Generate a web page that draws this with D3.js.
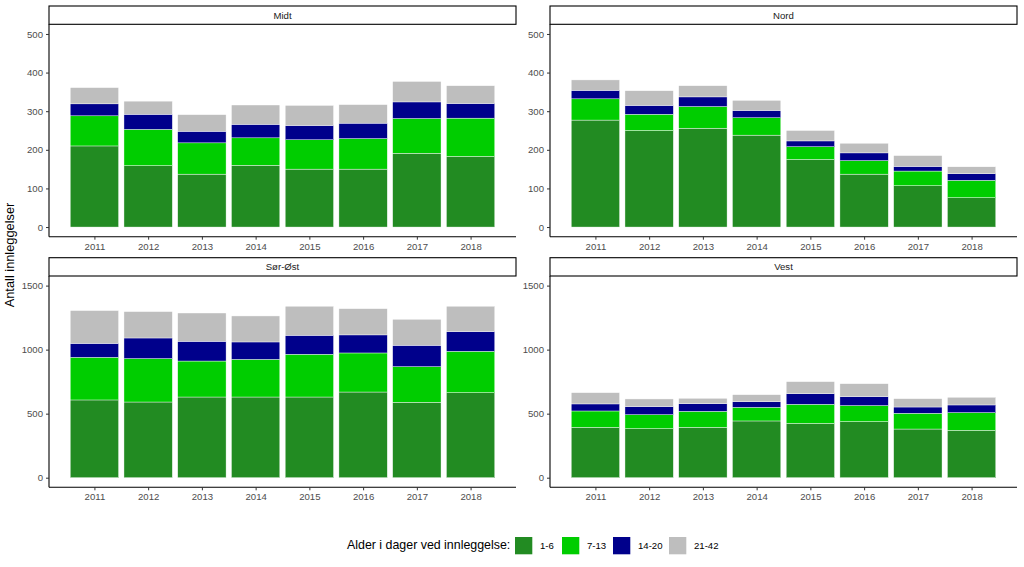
<!DOCTYPE html>
<html><head><meta charset="utf-8">
<script src="https://cdn.jsdelivr.net/npm/d3@7"></script>
<style>body{margin:0;background:#fff;font-family:"Liberation Sans",Arial,sans-serif;}</style>
</head><body><svg id="c" width="1024" height="567"></svg>
<script>
const years = [2011,2012,2013,2014,2015,2016,2017,2018];
const groups = ["1-6","7-13","14-20","21-42"];
const colors = ["#228B22","#00CD00","#00008B","#BEBEBE"];
const regions = ["Midt","Nord","Sør-Øst","Vest"];
const midt = {"1-6":[210,159,137,160,150,150,191,183],"7-13":[78,94,81,71,76,79,90,99],"14-20":[31,39,30,35,37,40,43,38],"21-42":[42,34,43,50,52,48,53,46]};
const nord = {"1-6":[277,250,256,238,175,137,107,76],"7-13":[55,42,56,45,33,35,38,45],"14-20":[22,23,25,19,15,20,12,17],"21-42":[27,38,29,26,27,25,28,18]};
const sorost = {"1-6":[607,591,630,630,630,669,589,664],"7-13":[333,339,281,294,334,305,278,323],"14-20":[109,161,154,136,148,141,167,154],"21-42":[256,206,221,203,227,205,203,198]};
const vest = {"1-6":[393,383,393,443,424,438,380,370],"7-13":[128,109,125,106,149,125,123,138],"14-20":[55,63,60,45,83,70,49,60],"21-42":[88,60,42,54,94,101,65,60]};
const rowTicks = [[0,100,200,300,400,500],[0,500,1000,1500]];
const rowMax = [500,1500];
const dataByRegion = [midt,nord,sorost,vest];
const legendTitle = "Alder i dager ved innleggelse:";
const yTitle = "Antall innleggelser";

const svg = d3.select("#c");
const panels = [
  {x0:49,x1:516,y0:24.3,y1:236.7,row:0},
  {x0:550,x1:1017,y0:24.3,y1:236.7,row:0},
  {x0:49,x1:516,y0:276,y1:487.3,row:1},
  {x0:550,x1:1017,y0:276,y1:487.3,row:1}
];
const stripH = 18.3;
const bw = 0.9;

panels.forEach((p,i)=>{
  const d = dataByRegion[i];
  const mx = rowMax[p.row];
  const x = d3.scaleLinear().domain([2010.55-0.395, 2018.45+0.395]).range([p.x0,p.x1]);
  const y = d3.scaleLinear().domain([-0.05*mx, 1.05*mx]).range([p.y1,p.y0]);
  const g = svg.append("g");
  g.append("rect").attr("x",p.x0).attr("y",p.y0-stripH).attr("width",p.x1-p.x0).attr("height",stripH)
    .attr("fill","#fff").attr("stroke","#000").attr("stroke-width",1.1);
  g.append("text").attr("x",(p.x0+p.x1)/2).attr("y",p.y0-stripH/2).attr("dy","0.35em")
    .attr("text-anchor","middle").attr("font-size",9.6).attr("fill","#1a1a1a").text(regions[i]);
  const rows = years.map((yr,k)=>{const o={year:yr}; groups.forEach(gr=>o[gr]=d[gr][k]); return o;});
  const stack = d3.stack().keys(groups)(rows);
  stack.forEach((s,si)=>{
    g.append("g").selectAll("rect").data(s).join("rect")
      .attr("x",e=>x(e.data.year-bw/2)).attr("width",e=>x(e.data.year+bw/2)-x(e.data.year-bw/2))
      .attr("y",e=>y(e[1])).attr("height",e=>y(e[0])-y(e[1]))
      .attr("fill",colors[si]).attr("stroke","#fff").attr("stroke-width",0.4);
  });
  const ya = g.append("g").attr("transform",`translate(${p.x0},0)`)
    .call(d3.axisLeft(y).tickValues(rowTicks[p.row]).tickSize(3).tickPadding(3).tickFormat(d3.format("d")));
  ya.select(".domain").attr("d",`M0,${p.y0}V${p.y1}`);
  const xa = g.append("g").attr("transform",`translate(0,${p.y1})`)
    .call(d3.axisBottom(x).tickValues(years).tickSize(3).tickPadding(3).tickFormat(d3.format("d")));
  xa.select(".domain").attr("d",`M${p.x0},0H${p.x1}`);
  [ya,xa].forEach(a=>{
    a.select(".domain").attr("stroke","#000").attr("stroke-width",1.1);
    a.selectAll(".tick line").attr("stroke","#333").attr("stroke-width",1);
    a.selectAll(".tick text").attr("fill","#4d4d4d").attr("font-size",9.6).attr("font-family","Liberation Sans, Arial, sans-serif");
  });
});

svg.append("text").attr("transform","translate(14,255) rotate(-90)").attr("text-anchor","middle")
  .attr("font-size",12.8).attr("fill","#000").text(yTitle);

const lg = svg.append("g");
lg.append("text").attr("x",347).attr("y",545).attr("dy","0.35em").attr("font-size",12.4).attr("fill","#000").text(legendTitle);
const keyX = [515,562,613,669];
groups.forEach((gr,i)=>{
  lg.append("rect").attr("x",keyX[i]).attr("y",537).attr("width",17.3).attr("height",17.3).attr("fill",colors[i]);
  lg.append("text").attr("x",keyX[i]+25).attr("y",545.5).attr("dy","0.35em").attr("font-size",9.6).attr("fill","#000").text(gr);
});
</script></body></html>
